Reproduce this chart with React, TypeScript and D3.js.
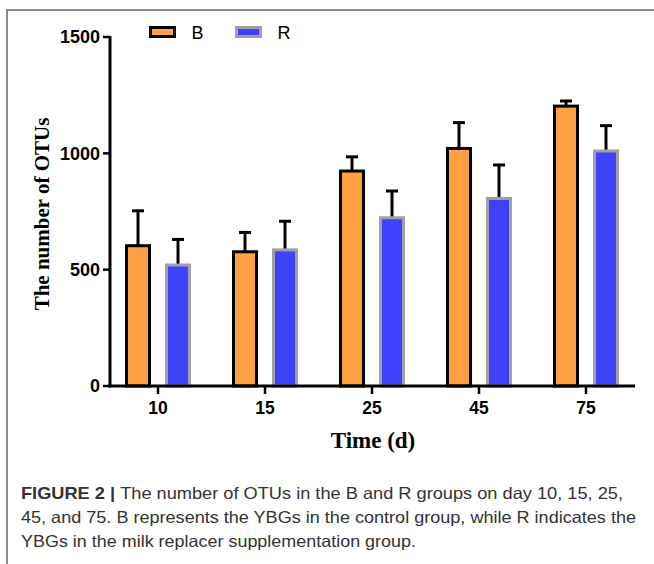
import React from "react";
import * as d3 from "d3";

const categories = ["10", "15", "25", "45", "75"];
const seriesNames = ["B", "R"];
const bMeans = [603, 577, 924, 1021, 1203];
const bErr = [150, 83, 61, 111, 22];
const rMeans = [520, 585, 723, 806, 1010];
const rErr = [110, 123, 115, 144, 109];
const yTicks = [0, 500, 1000, 1500];
const captionLines = [
  "The number of OTUs in the B and R groups on day 10, 15, 25,",
  "45, and 75. B represents the YBGs in the control group, while R indicates the",
  "YBGs in the milk replacer supplementation group.",
];

const fills = ["#FF9F3F", "#4040FF"];
const strokes = ["#000000", "#A0A0A6"];

export default function App() {
  const W = 654, H = 564;
  const y = d3.scaleLinear().domain([0, 1500]).range([386, 37]);
  const x = d3.scalePoint<string>().domain(categories).range([158, 586]);
  const off = d3.scalePoint<string>().domain(seriesNames).range([-20, 20]);
  const barW = 23;
  const series = [
    { name: "B", m: bMeans, e: bErr },
    { name: "R", m: rMeans, e: rErr },
  ];
  const axisX = 110;
  const capFont = "Liberation Sans, Arial, sans-serif";
  return (
    <svg width={W} height={H} style={{ position: "absolute", left: 0, top: 0 }}>
      <rect x={0} y={0} width={W} height={H} fill="#fff" />
      <line x1={7} y1={10} x2={7} y2={H} stroke="#8a8a8a" strokeWidth={2} />
      <line x1={6} y1={10} x2={W} y2={10} stroke="#8a8a8a" strokeWidth={2} />
      {series.map((s, si) =>
        categories.map((c, i) => {
          const cx = (x(c) as number) + (off(s.name) as number);
          const top = y(s.m[i]);
          const et = y(s.m[i] + s.e[i]);
          return (
            <g key={s.name + c}>
              <line x1={cx} x2={cx} y1={top} y2={et} stroke="#000" strokeWidth={3} />
              <line x1={cx - 6} x2={cx + 6} y1={et} y2={et} stroke="#000" strokeWidth={3} />
              <rect
                x={cx - barW / 2}
                y={top}
                width={barW}
                height={y(0) - top}
                fill={fills[si]}
                stroke={strokes[si]}
                strokeWidth={3}
              />
            </g>
          );
        })
      )}
      {/* y axis */}
      <line x1={axisX} x2={axisX} y1={y(1500) - 1} y2={y(0) + 1.5} stroke="#000" strokeWidth={3} />
      {yTicks.map((t) => (
        <g key={t}>
          <line x1={axisX - 7} x2={axisX} y1={y(t)} y2={y(t)} stroke="#000" strokeWidth={2.5} />
          <text
            x={axisX - 10}
            y={y(t)}
            dy="0.36em"
            textAnchor="end"
            fontFamily="Liberation Sans, Arial, sans-serif"
            fontWeight="bold"
            fontSize={18}
            fill="#000"
          >
            {t}
          </text>
        </g>
      ))}
      {/* x axis */}
      <line x1={axisX - 1.5} x2={635} y1={y(0)} y2={y(0)} stroke="#000" strokeWidth={3} />
      {categories.map((c) => (
        <g key={c}>
          <line x1={x(c)} x2={x(c)} y1={y(0)} y2={y(0) + 8} stroke="#000" strokeWidth={2.5} />
          <text
            x={x(c)}
            y={y(0) + 28}
            textAnchor="middle"
            fontFamily="Liberation Sans, Arial, sans-serif"
            fontWeight="bold"
            fontSize={17.5}
            fill="#000"
          >
            {c}
          </text>
        </g>
      ))}
      <text
        transform={`translate(49,${214}) rotate(-90)`}
        textAnchor="middle"
        fontFamily="Liberation Serif, Times New Roman, serif"
        fontWeight="bold"
        fontSize={21}
        fill="#000"
      >
        The number of OTUs
      </text>
      <text
        x={373}
        y={448}
        textAnchor="middle"
        fontFamily="Liberation Serif, Times New Roman, serif"
        fontWeight="bold"
        fontSize={23}
        fill="#000"
      >
        Time (d)
      </text>
      {/* legend */}
      {seriesNames.map((n, i) => (
        <g key={n} transform={`translate(${150.5 + i * 86},27.5)`}>
          <rect x={0} y={0} width={24} height={9} fill={fills[i]} stroke={strokes[i]} strokeWidth={3} />
          <text
            x={41}
            y={5}
            dy="0.36em"
            fontFamily="Liberation Sans, Arial, sans-serif"
            fontSize={18}
            fill="#000"
          >
            {n}
          </text>
        </g>
      ))}
      {/* caption */}
      <text
        x={21}
        y={499}
        fontFamily={capFont}
        fontSize={16.5}
        fill="#333"
        textLength={602}
        lengthAdjust="spacingAndGlyphs"
      >
        <tspan fontWeight="bold">FIGURE 2 | </tspan>
        {captionLines[0]}
      </text>
      <text
        x={21}
        y={523}
        fontFamily={capFont}
        fontSize={16.5}
        fill="#333"
        textLength={615}
        lengthAdjust="spacingAndGlyphs"
      >
        {captionLines[1]}
      </text>
      <text
        x={21}
        y={547}
        fontFamily={capFont}
        fontSize={16.5}
        fill="#333"
        textLength={395}
        lengthAdjust="spacingAndGlyphs"
      >
        {captionLines[2]}
      </text>
    </svg>
  );
}
